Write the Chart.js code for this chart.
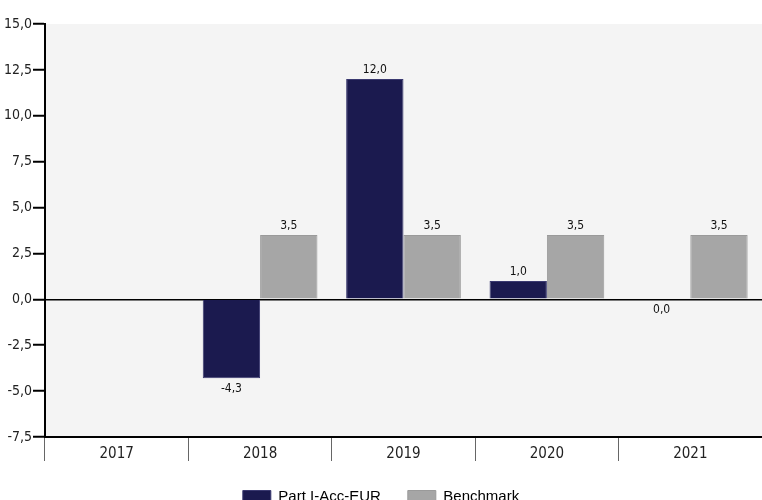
<!DOCTYPE html>
<html>
<head>
<meta charset="utf-8">
<script src="https://cdn.jsdelivr.net/npm/chart.js@4.4.0/dist/chart.umd.min.js"></script>
<style>
  html, body { margin: 0; padding: 0; background: #fff; }
  #wrap { width: 762px; height: 500px; }
</style>
</head>
<body>
<div id="wrap"><canvas id="perfChart"></canvas></div>
<script>
// Chart data
const years = ['2017', '2018', '2019', '2020', '2021'];
const partValues = [null, -4.3, 12.0, 1.0, 0.0];
const benchValues = [null, 3.5, 3.5, 3.5, 3.5];
const yTicks = [-7.5, -5.0, -2.5, 0.0, 2.5, 5.0, 7.5, 10.0, 12.5, 15.0];

const condensed = "'Liberation Sans Narrow', 'DejaVu Sans Condensed', sans-serif";
const fmt = v => v.toFixed(1).replace('.', ',');

// grey plot background
const plotBg = {
    id: 'plotBg',
    beforeDraw(chart) {
        const { ctx, chartArea: a } = chart;
        ctx.save();
        ctx.fillStyle = '#f4f4f4';
        ctx.fillRect(a.left, a.top, a.right - a.left, a.bottom - a.top);
        ctx.restore();
    }
};

// value labels above / below bars
const barLabels = {
    id: 'barLabels',
    afterDatasetsDraw(chart) {
        const ctx = chart.ctx;
        ctx.save();
        ctx.font = '12px ' + condensed;
        ctx.fillStyle = '#111';
        ctx.textAlign = 'center';
        chart.data.datasets.forEach((ds, i) => {
            chart.getDatasetMeta(i).data.forEach((bar, j) => {
                const v = ds.data[j];
                if (v === null) return;
                if (v > 0) {
                    ctx.textBaseline = 'bottom';
                    ctx.fillText(fmt(v), bar.x, bar.y - 3);
                } else {
                    ctx.textBaseline = 'top';
                    ctx.fillText(fmt(v), bar.x, Math.max(bar.y, bar.base) + 5);
                }
            });
        });
        ctx.restore();
    }
};

new Chart(document.getElementById('perfChart'), {
    type: 'bar',
    data: {
        labels: years,
        datasets: [{
            label: 'Part I-Acc-EUR',
            data: partValues,
            backgroundColor: '#1b1a4f',
            borderColor: '#3a3970',
            borderWidth: 1
        }, {
            label: 'Benchmark',
            data: benchValues,
            backgroundColor: '#a6a6a6',
            borderColor: '#9a9a9a',
            borderWidth: 1
        }]
    },
    options: {
        responsive: true,
        maintainAspectRatio: false,
        animation: false,
        layout: { padding: { top: 24, right: 0, left: 0, bottom: -14 } },
        datasets: { bar: { categoryPercentage: 0.8, barPercentage: 1.0 } },
        plugins: {
            tooltip: { enabled: false },
            legend: {
                position: 'bottom',
                labels: {
                    boxWidth: 28,
                    boxHeight: 12,
                    padding: 27,
                    color: '#000',
                    font: { family: "'Liberation Sans', Arial, sans-serif", size: 15 }
                }
            }
        },
        scales: {
            x: {
                offset: true,
                grid: {
                    offset: true,
                    drawOnChartArea: false,
                    tickLength: 24,
                    color: '#666'
                },
                border: { color: '#000', width: 2 },
                ticks: {
                    color: '#222',
                    padding: -16,
                    font: { family: condensed, size: 15 }
                },
                afterFit(axis) { axis.height = 25; }
            },
            y: {
                min: -7.5,
                max: 15,
                afterBuildTicks(axis) { axis.ticks = yTicks.map(v => ({ value: v })); },
                grid: {
                    color: c => (c.tick && c.tick.value === 0) ? '#000' : 'rgba(0,0,0,0)',
                    lineWidth: 1.5,
                    tickColor: '#000',
                    tickLength: 12,
                    tickWidth: 2
                },
                border: { color: '#000', width: 2 },
                ticks: {
                    color: '#222',
                    padding: 1,
                    font: { family: condensed, size: 14 },
                    callback: v => fmt(v)
                },
                afterFit(axis) { axis.width = 45; }
            }
        }
    },
    plugins: [plotBg, barLabels]
});
</script>
</body>
</html>
